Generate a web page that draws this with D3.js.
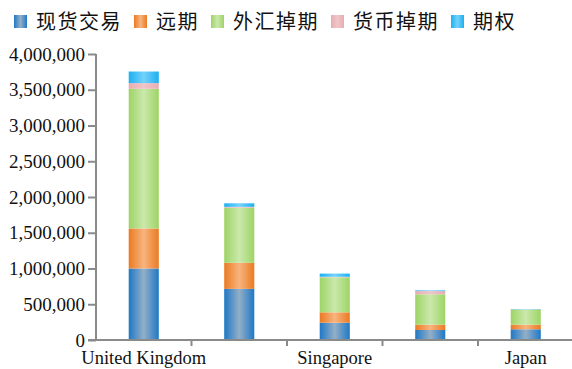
<!DOCTYPE html>
<html>
<head>
<meta charset="utf-8">
<script src="https://cdn.jsdelivr.net/npm/d3@7"></script>
<style>
  html, body { margin: 0; padding: 0; background: #fff; }
  svg { display: block; }
</style>
</head>
<body>
<svg id="chart" width="572" height="369"></svg>
<script>
// Daily FX turnover by market and instrument (USD millions)
const countries = ["United Kingdom", "United States", "Singapore", "Hong Kong SAR", "Japan"];
const seriesNames = ["现货交易", "远期", "外汇掉期", "货币掉期", "期权"];
const spot          = [1000000, 715000, 242000, 140000, 150000];
const forwards      = [560000, 365000, 145000, 74000, 64000];
const fxSwaps       = [1953000, 770000, 490000, 425000, 212000];
const currencySwaps = [80000, 12000, 7000, 45000, 2000];
const options       = [162000, 50000, 45000, 10000, 5000];
const yTicks = [0, 500000, 1000000, 1500000, 2000000, 2500000, 3000000, 3500000, 4000000];

const seriesValues = [spot, forwards, fxSwaps, currencySwaps, options];
const palette = [
  { edge: "#1f78c6", mid: "#93afc8" },
  { edge: "#eb7a22", mid: "#f8b47f" },
  { edge: "#9dd465", mid: "#cbe8ac" },
  { edge: "#e7adb1", mid: "#f0c6c9" },
  { edge: "#1cb0f2", mid: "#74d2fa" }
];

const svg = d3.select("#chart");
const margin = { left: 96 };
const W = 572;

const x = d3.scaleBand().domain(countries).range([margin.left, 573.5]).paddingInner(0).paddingOuter(0);
const y = d3.scaleLinear().domain([0, 4000000]).range([340, 54]);

// horizontal gradients: saturated edges, pale centre
const defs = svg.append("defs");
palette.forEach((p, i) => {
  const g = defs.append("linearGradient").attr("id", "grad" + i)
    .attr("x1", "0%").attr("x2", "100%").attr("y1", "0%").attr("y2", "0%");
  g.append("stop").attr("offset", "0%").attr("stop-color", p.edge);
  g.append("stop").attr("offset", "50%").attr("stop-color", p.mid);
  g.append("stop").attr("offset", "100%").attr("stop-color", p.edge);
});

// stack data
const rows = countries.map((c, i) => {
  const r = { country: c };
  seriesNames.forEach((s, k) => { r[s] = seriesValues[k][i]; });
  return r;
});
const stacked = d3.stack().keys(seriesNames)(rows);

const barW = x.bandwidth() * 0.315;
const layers = svg.append("g").selectAll("g").data(stacked).join("g")
  .attr("fill", (d, i) => `url(#grad${i})`);
layers.selectAll("rect").data(d => d).join("rect")
  .attr("x", d => x(d.data.country) + (x.bandwidth() - barW) / 2)
  .attr("width", barW)
  .attr("y", d => y(d[1]))
  .attr("height", d => Math.max(0, y(d[0]) - y(d[1])));

// y axis
const axisColor = "#8a8a8a";
const serif = "'Liberation Serif', 'Times New Roman', serif";
const yAxis = svg.append("g").attr("transform", `translate(${margin.left},0)`)
  .call(d3.axisLeft(y).tickValues(yTicks).tickFormat(d3.format(",")).tickSize(8).tickPadding(3));
yAxis.select(".domain").attr("stroke", axisColor).attr("stroke-width", 2)
  .attr("d", `M0,${y(4000000)}V${y(0)}`);
yAxis.selectAll(".tick line").attr("stroke", axisColor).attr("stroke-width", 2);
yAxis.selectAll(".tick text")
  .attr("font-family", serif)
  .attr("font-size", "19px").attr("fill", "#111");

// x axis: tick marks on category boundaries, every other label shown
const xg = svg.append("g");
xg.append("line").attr("x1", margin.left - 8).attr("x2", W).attr("y1", 340).attr("y2", 340)
  .attr("stroke", axisColor).attr("stroke-width", 2);
xg.selectAll("line.b").data(countries.slice(1)).join("line").attr("class", "b")
  .attr("x1", d => x(d)).attr("x2", d => x(d))
  .attr("y1", 340).attr("y2", 346)
  .attr("stroke", axisColor).attr("stroke-width", 2);
xg.selectAll("text").data(countries.filter((c, i) => i % 2 === 0)).join("text")
  .attr("x", d => x(d) + x.bandwidth() / 2)
  .attr("y", 364)
  .attr("text-anchor", "middle")
  .attr("font-family", serif)
  .attr("font-size", "18.5px").attr("fill", "#111")
  .text(d => d);

// legend
const legend = svg.append("g");
let lx = 14;
seriesNames.forEach((s, i) => {
  legend.append("rect").attr("x", lx).attr("y", 15).attr("width", 13).attr("height", 13)
    .attr("fill", `url(#grad${i})`);
  const t = legend.append("text").attr("x", lx + 22).attr("y", 29)
    .attr("font-family", "'Noto Sans CJK SC', sans-serif")
    .attr("font-size", "20px").attr("letter-spacing", "1.5px").attr("fill", "#111")
    .text(s);
  lx += 22 + t.node().getComputedTextLength() + 12;
});
</script>
</body>
</html>
